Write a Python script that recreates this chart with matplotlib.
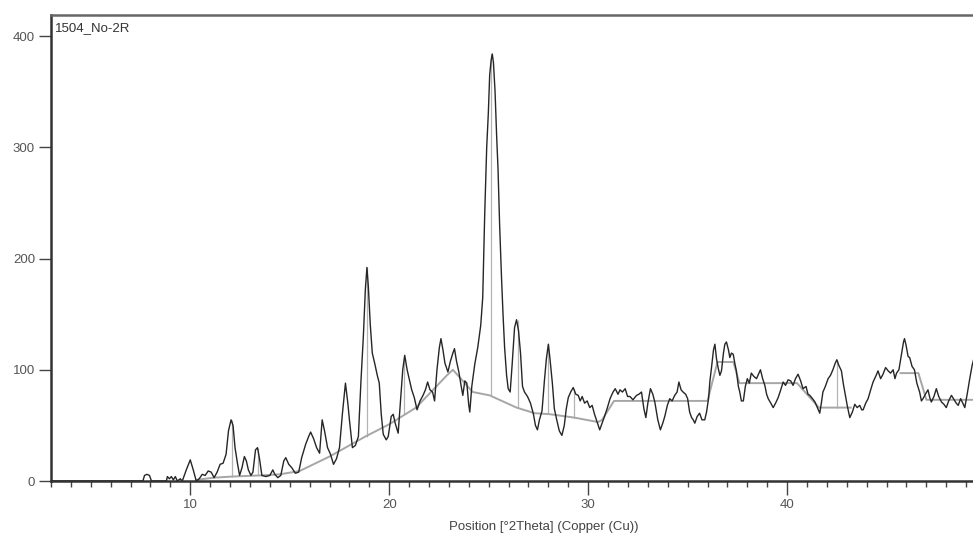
import numpy as np
import matplotlib
matplotlib.use("Agg")
import matplotlib.pyplot as plt
from matplotlib.ticker import MultipleLocator

plt.rcParams['font.family'] = ['Liberation Sans', 'DejaVu Sans']

# scan: position [°2Theta] and counts
two_theta = [3.0, 7.5, 7.62, 7.7, 7.82, 7.95, 8.05, 8.8, 8.85, 8.95, 9.05, 9.15, 9.25, 9.35, 9.5, 9.6,
             9.8, 10.0, 10.15, 10.3, 10.45, 10.6, 10.75, 10.9, 11.05, 11.2, 11.35, 11.5, 11.65, 11.8,
             11.92, 12.05, 12.15, 12.25, 12.38, 12.48, 12.6, 12.72, 12.82, 12.92, 13.05, 13.15, 13.28,
             13.38, 13.48, 13.6, 13.8, 14.0, 14.15, 14.25, 14.4, 14.55, 14.7, 14.8, 14.95, 15.1, 15.28,
             15.45, 15.6, 15.8, 15.95, 16.05, 16.2, 16.35, 16.5, 16.63, 16.75, 16.9, 17.05, 17.2, 17.35,
             17.5, 17.65, 17.8, 17.92, 18.0, 18.15, 18.3, 18.45, 18.58, 18.7, 18.8, 18.88, 18.95, 19.05,
             19.15, 19.28, 19.4, 19.5, 19.6, 19.7, 19.85, 19.95, 20.1, 20.2, 20.3, 20.45, 20.58, 20.68,
             20.78, 20.9, 21.0, 21.13, 21.26, 21.4, 21.55, 21.7, 21.82, 21.93, 22.05, 22.18, 22.28, 22.4,
             22.52, 22.6, 22.7, 22.8, 22.95, 23.08, 23.2, 23.28, 23.38, 23.5, 23.62, 23.7, 23.8, 23.9,
             24.0, 24.05, 24.15, 24.3, 24.45, 24.6, 24.7, 24.8, 24.9, 24.98, 25.05, 25.12, 25.18, 25.24,
             25.32, 25.4, 25.47, 25.55, 25.64, 25.72, 25.8, 25.9, 25.98, 26.08, 26.18, 26.3, 26.4, 26.5,
             26.6, 26.7, 26.8, 26.95, 27.1, 27.25, 27.35, 27.45, 27.55, 27.68, 27.8, 27.9, 28.0, 28.08,
             28.2, 28.3, 28.42, 28.55, 28.68, 28.8, 28.9, 29.0, 29.12, 29.25, 29.38, 29.5, 29.6, 29.7,
             29.82, 29.95, 30.08, 30.2, 30.32, 30.45, 30.58, 30.7, 30.82, 30.95, 31.1, 31.25, 31.36, 31.5,
             31.6, 31.72, 31.86, 31.98, 32.1, 32.25, 32.43, 32.55, 32.68, 32.8, 32.9, 33.0, 33.13, 33.25,
             33.35, 33.5, 33.63, 33.75, 33.85, 33.98, 34.1, 34.22, 34.35, 34.47, 34.56, 34.67, 34.77,
             34.9, 35.0, 35.1, 35.2, 35.28, 35.36, 35.48, 35.6, 35.72, 35.86, 35.95, 36.05, 36.12, 36.2,
             36.3, 36.37, 36.45, 36.53, 36.62, 36.7, 36.8, 36.87, 36.95, 37.05, 37.12, 37.2, 37.29, 37.38,
             37.45, 37.55, 37.62, 37.7, 37.8, 37.9, 38.0, 38.1, 38.2, 38.33, 38.46, 38.56, 38.66, 38.77,
             38.88, 38.97, 39.05, 39.18, 39.3, 39.42, 39.55, 39.68, 39.8, 39.92, 40.05, 40.18, 40.3, 40.42,
             40.55, 40.68, 40.8, 40.95, 41.05, 41.14, 41.28, 41.4, 41.52, 41.64, 41.72, 41.8, 41.92, 42.06,
             42.18, 42.3, 42.42, 42.5, 42.6, 42.73, 42.82, 42.9, 43.02, 43.15, 43.28, 43.4, 43.52, 43.65,
             43.75, 43.82, 43.95, 44.07, 44.2, 44.32, 44.45, 44.57, 44.7, 44.82, 44.95, 45.08, 45.2, 45.33,
             45.42, 45.5, 45.62, 45.75, 45.85, 45.9, 45.98, 46.08, 46.16, 46.28, 46.4, 46.52, 46.66, 46.75,
             46.83, 46.95, 47.08, 47.17, 47.25, 47.38, 47.5, 47.62, 47.76, 47.88, 48.0, 48.12, 48.26, 48.4,
             48.5, 48.6, 48.72, 48.83, 48.93, 49.05, 49.18, 49.3, 49.4]
counts = [0, 0, 0, 5, 6, 5, 0, 0, 4, 2, 4, 1, 4, 0, 2, 0,
          10, 19, 10, 0, 2, 6, 5, 9, 8, 3, 8, 15, 16, 24,
          45, 55, 50, 30, 15, 5, 12, 22, 18, 10, 5, 8, 28,
          30, 20, 5, 4, 5, 10, 6, 3, 5, 18, 21, 15, 12, 7,
          8, 21, 33, 40, 44, 38, 30, 25, 55, 45, 30, 24, 15, 20,
          30, 61, 88, 70, 55, 30, 32, 40, 90, 130, 172, 192, 175, 140,
          115, 105, 95, 88, 60, 42, 37, 40, 58, 60, 52, 43, 75, 100,
          113, 100, 92, 82, 75, 64, 72, 77, 82, 89, 82, 80, 72, 100,
          120, 128, 118, 106, 98, 108, 115, 119, 108, 98, 85, 77, 90, 88,
          68, 62, 85, 105, 120, 140, 165, 240, 300, 330, 365, 378, 384, 376,
          350, 310, 280, 230, 185, 150, 120, 95, 83, 80, 105, 138, 145, 135,
          115, 85, 80, 76, 70, 60, 50, 46, 55, 63, 90, 110, 123, 110,
          88, 65, 55, 45, 41, 50, 65, 75, 80, 84, 78, 77, 72, 76,
          70, 72, 66, 68, 60, 53, 46, 52, 58, 65, 74, 80, 83, 78,
          82, 80, 83, 76, 76, 73, 77, 78, 80, 65, 57, 70, 83, 78,
          71, 55, 46, 52, 58, 68, 74, 72, 77, 80, 89, 82, 80,
          78, 74, 62, 57, 55, 52, 58, 61, 55, 55, 62, 74, 90, 102,
          118, 123, 110, 102, 95, 99, 115, 123, 125, 118, 111, 115, 114, 105,
          99, 85, 80, 72, 72, 85, 92, 88, 97, 94, 92, 96, 100, 92,
          86, 78, 74, 70, 66, 70, 75, 82, 89, 86, 91, 90, 86, 92,
          96, 90, 83, 85, 78, 77, 74, 71, 66, 61, 70, 80, 85, 92,
          95, 100, 106, 109, 104, 99, 88, 80, 68, 57, 62, 69, 66, 68,
          64, 64, 70, 74, 82, 89, 94, 99, 92, 96, 102, 99, 97, 100,
          92, 97, 100, 114, 125, 128, 122, 112, 111, 103, 100, 88, 80, 72,
          74, 78, 82, 75, 71, 76, 83, 76, 71, 69, 66, 72, 77, 73,
          70, 68, 74, 70, 66, 78, 92, 104, 111]

# fitted background (gaps where it runs under the scan)
bg_theta = [10.3, 11.2, 12.1, 13.5, 14.5, 15.5, 17.0, 18.8, 20.0, 21.35, 22.9, 23.2, 24.2, 25.05,
            26.4, 27.3, 28.1, 29.3, 30.5, 30.7, 31.3, 36.0, 36.5, 37.3, 37.6, 40.5, 41.6, 43.2,
            np.nan, 45.7, 46.6, 47.0, 49.35]
bg_counts = [1, 3, 4, 5, 6, 9, 22, 40, 51, 66, 95, 100, 80, 77,
             66, 61, 60, 57, 53, 55, 72, 72, 107, 107, 88, 88, 66, 66,
             np.nan, 97, 97, 73, 73]

# peak markers: position, top, base
peak_pos = [12.1, 13.4, 18.9, 20.75, 25.1, 26.45, 28.0, 29.3, 42.5]
peak_top = [55, 30, 192, 113, 384, 145, 123, 83, 109]
peak_base = [4, 5, 40, 60, 77, 66, 60, 57, 66]

x_ticks = [10, 20, 30, 40]
y_ticks = [0, 100, 200, 300, 400]

fig = plt.figure(figsize=(9.73, 5.4), dpi=100)
# the plot area runs past the right edge of the picture (cropped view)
ax = fig.add_axes([51 / 973, 59 / 540, 986 / 973, 466 / 540])

ax.vlines(peak_pos, peak_base, peak_top, colors='#b4b4b4', lw=0.9, zorder=1)
ax.plot(bg_theta, bg_counts, color='#a6a6a6', lw=1.4, zorder=2)
ax.plot(two_theta, counts, color='#262626', lw=1.0, zorder=3)

ax.set_xlim(3.0, 52.56)
ax.set_ylim(0, 419)
ax.set_xticks(x_ticks)
ax.xaxis.set_minor_locator(MultipleLocator(1))
ax.set_yticks(y_ticks)

ax.tick_params(axis='x', which='major', direction='out', length=10, width=1, colors='#444444',
               labelsize=9.5, pad=3)
ax.tick_params(axis='x', which='minor', direction='out', length=4.5, width=1, colors='#444444')
ax.tick_params(axis='y', direction='out', length=8.5, width=1, colors='#444444', labelsize=9.5, pad=3)
for lbl in ax.get_xticklabels() + ax.get_yticklabels():
    lbl.set_color('#555555')

for side in ['left', 'bottom', 'top']:
    ax.spines[side].set_color('#333333')
    ax.spines[side].set_linewidth(1.8)
ax.spines['top'].set_color('#666666')
ax.spines['right'].set_visible(False)

ax.set_xlabel('Position [°2Theta] (Copper (Cu))', fontsize=9.5, color='#444444', labelpad=7)
ax.text(0.004, 0.985, '1504_No-2R', transform=ax.transAxes, fontsize=9.5, color='#333333',
        ha='left', va='top')

fig.savefig('out.png', dpi=100)
